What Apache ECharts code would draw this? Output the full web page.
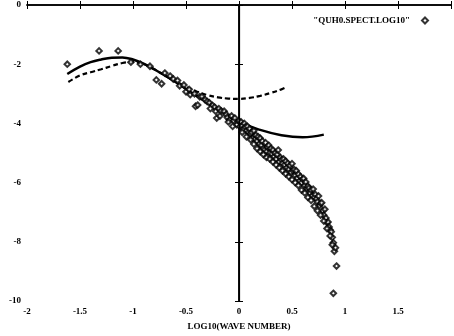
<!DOCTYPE html>
<html>
<head>
<meta charset="utf-8">
<script src="https://cdn.jsdelivr.net/npm/echarts@6/dist/echarts.min.js"></script>
<style>
  html, body { margin: 0; padding: 0; background: #fff; }
  #chart { width: 454px; height: 336px; }
</style>
</head>
<body>
<div id="chart"></div>
<script>
// Spectrum samples: log10(wave number) vs log10(power)
const specX = [
  -1.62, -1.32, -1.14, -1.02, -0.93, -0.84, -0.78, -0.73, -0.70, -0.65,
  -0.62, -0.58, -0.56, -0.52, -0.50, -0.47, -0.46, -0.42, -0.41, -0.39,
  -0.37, -0.35, -0.32, -0.30, -0.28, -0.25, -0.23, -0.22, -0.21, -0.19,
  -0.17, -0.14, -0.12, -0.11, -0.09, -0.07, -0.05, -0.04, -0.02, 0.00,
  0.01, 0.02, 0.03, 0.04, 0.05, 0.06, 0.07, 0.08, 0.09, 0.10,
  0.11, 0.12, 0.13, 0.14, 0.15, 0.16, 0.17, 0.18, 0.19, 0.20,
  0.21, 0.22, 0.23, 0.24, 0.25, 0.26, 0.27, 0.28, 0.29, 0.30,
  0.31, 0.32, 0.33, 0.34, 0.35, 0.36, 0.37, 0.38, 0.39, 0.40,
  0.41, 0.42, 0.43, 0.44, 0.45, 0.46, 0.47, 0.48, 0.49, 0.50,
  0.51, 0.52, 0.53, 0.54, 0.55, 0.56, 0.57, 0.58, 0.59, 0.60,
  0.61, 0.62, 0.63, 0.64, 0.65, 0.66, 0.67, 0.68, 0.69, 0.70,
  0.71, 0.72, 0.73, 0.74, 0.75, 0.76, 0.77, 0.78, 0.79, 0.80,
  0.81, 0.82, 0.83, 0.84, 0.85, 0.86, 0.87, 0.88, 0.89, 0.90,
  0.91, 0.92, 0.89,
  // lower edge of the band
  -0.27, -0.18, -0.10, -0.06, 0.03, 0.07, 0.11, 0.14, 0.17, 0.20,
  0.23, 0.26, 0.29, 0.32, 0.35, 0.38, 0.41, 0.44, 0.47, 0.50,
  0.53, 0.56, 0.59, 0.62, 0.65, 0.68, 0.71, 0.74, 0.77, 0.80,
  0.83, 0.86, 0.88
];
const specY = [
  -2.00, -1.55, -1.55, -1.93, -2.00, -2.07, -2.53, -2.66, -2.30, -2.40,
  -2.50, -2.55, -2.73, -2.70, -2.93, -2.85, -3.03, -3.00, -3.42, -3.38,
  -3.10, -3.09, -3.20, -3.26, -3.30, -3.39, -3.45, -3.59, -3.82, -3.50,
  -3.58, -3.59, -3.70, -3.80, -3.88, -3.75, -3.91, -3.82, -4.05, -3.92,
  -4.10, -3.95, -4.08, -4.20, -4.00, -4.12, -4.25, -4.10, -4.30, -4.18,
  -4.35, -4.30, -4.50, -4.25, -4.54, -4.40, -4.60, -4.45, -4.70, -4.50,
  -4.74, -4.60, -4.85, -4.90, -4.65, -4.95, -4.80, -4.74, -5.00, -4.85,
  -5.03, -4.90, -5.12, -5.00, -5.20, -5.05, -4.90, -5.30, -5.15, -5.23,
  -5.35, -5.20, -5.40, -5.28, -5.50, -5.35, -5.55, -5.42, -5.65, -5.36,
  -5.60, -5.56, -5.75, -5.60, -5.85, -5.72, -5.95, -5.80, -6.00, -5.88,
  -5.86, -6.10, -5.98, -6.20, -6.12, -6.18, -6.35, -6.25, -6.45, -6.22,
  -6.50, -6.40, -6.55, -6.65, -6.45, -6.78, -6.70, -6.68, -6.95, -7.10,
  -6.90, -7.20, -7.35, -7.33, -7.50, -7.60, -7.66, -7.85, -8.03, -8.32,
  -8.20, -8.82, -9.74,
  -3.50, -3.75, -3.95, -4.10, -4.30, -4.45, -4.55, -4.70, -4.85, -4.95,
  -5.05, -5.15, -5.20, -5.30, -5.40, -5.50, -5.60, -5.70, -5.80, -5.90,
  -6.00, -6.10, -6.25, -6.35, -6.50, -6.60, -6.80, -6.95, -7.10, -7.30,
  -7.55, -7.80, -8.10
];

// Fitted model curve (solid)
const fitSolidX = [-1.62, -1.5, -1.4, -1.3, -1.2, -1.1, -1.0, -0.9, -0.8, -0.6, -0.4, -0.2, 0.0, 0.2, 0.4, 0.6, 0.8];
const fitSolidY = [-2.33, -2.08, -1.93, -1.84, -1.78, -1.77, -1.84, -1.98, -2.17, -2.60, -3.07, -3.50, -3.95, -4.22, -4.40, -4.47, -4.38];

// Second model curve (dashed)
const fitDashX = [-1.61, -1.5, -1.4, -1.3, -1.2, -1.1, -1.0, -0.9, -0.8, -0.7, -0.6, -0.5, -0.4, -0.3, -0.2, -0.1, 0.0, 0.1, 0.2, 0.3, 0.4, 0.45];
const fitDashY = [-2.60, -2.38, -2.27, -2.17, -2.06, -1.96, -1.93, -2.00, -2.17, -2.38, -2.58, -2.76, -2.92, -3.04, -3.12, -3.16, -3.17, -3.14, -3.07, -2.97, -2.85, -2.77];

const xTicks = [-2, -1.5, -1, -0.5, 0, 0.5, 1, 1.5];
const yTicks = [0, -2, -4, -6, -8, -10];

const zip = (xs, ys) => xs.map((x, i) => [x, ys[i]]);

const FONT = '"Liberation Serif", "DejaVu Serif", serif';
const chart = echarts.init(document.getElementById('chart'), null, { renderer: 'canvas' });

const axisLine = { show: true, lineStyle: { color: '#000', width: 1.5 } };
const tickIn = { show: true, inside: true, length: 4, lineStyle: { color: '#000', width: 1 } };

chart.setOption({
  animation: false,
  backgroundColor: '#fff',
  grid: { left: 27, right: 2, top: 5, bottom: 28, containLabel: false },
  legend: {
    right: 20, top: 11,
    align: 'right',
    itemWidth: 6, itemHeight: 6, itemGap: 4,
    data: ['"QUH0.SPECT.LOG10"'],
    textStyle: { fontFamily: FONT, fontSize: 9, fontWeight: 'bold', color: '#000', padding: [0, 7, 0, 0] }
  },
  xAxis: [{
    type: 'value', min: -2, max: 2, interval: 0.5,
    name: 'LOG10(WAVE NUMBER)', nameLocation: 'middle', nameGap: 21,
    nameTextStyle: { fontFamily: FONT, fontSize: 9, fontWeight: 'bold', color: '#000' },
    axisLine, axisTick: tickIn, splitLine: { show: false },
    axisLabel: {
      fontFamily: FONT, fontSize: 9, fontWeight: 'bold', color: '#000', margin: 6,
      formatter: v => xTicks.includes(v) ? String(v) : ''
    }
  }, {
    type: 'value', min: -2, max: 2, interval: 0.5, position: 'top',
    axisLine, axisTick: tickIn, axisLabel: { show: false }, splitLine: { show: false }
  }],
  yAxis: [{
    type: 'value', min: -10, max: 0, interval: 2,
    axisLine, axisTick: tickIn, splitLine: { show: false },
    axisLabel: {
      fontFamily: FONT, fontSize: 9, fontWeight: 'bold', color: '#000', margin: 6,
      formatter: v => yTicks.includes(v) ? String(v) : ''
    }
  }, {
    type: 'value', min: -10, max: 0, interval: 2, position: 'right',
    axisLine, axisTick: tickIn, axisLabel: { show: false }, splitLine: { show: false }
  }],
  series: [
    {
      name: '"QUH0.SPECT.LOG10"',
      type: 'scatter',
      symbol: 'emptyDiamond',
      symbolSize: 5.5,
      itemStyle: { color: '#000', borderColor: '#000', borderWidth: 1 },
      data: zip(specX, specY),
      z: 3
    },
    {
      name: 'fit',
      type: 'line',
      smooth: 0.4,
      showSymbol: false,
      lineStyle: { color: '#000', width: 2.5 },
      data: zip(fitSolidX, fitSolidY),
      markLine: {
        silent: true, symbol: 'none', label: { show: false },
        lineStyle: { color: '#000', width: 1.2, type: 'solid' },
        data: [{ xAxis: 0 }]
      }
    },
    {
      name: 'fit2',
      type: 'line',
      smooth: 0.4,
      showSymbol: false,
      lineStyle: { color: '#000', width: 2.2, type: [5, 3] },
      data: zip(fitDashX, fitDashY)
    }
  ]
});
</script>
</body>
</html>
